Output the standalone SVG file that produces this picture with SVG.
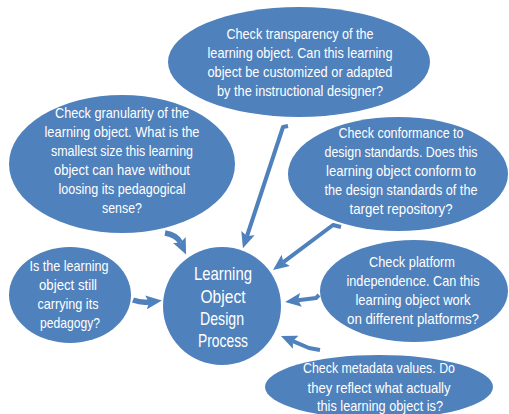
<svg xmlns="http://www.w3.org/2000/svg" width="509" height="414" viewBox="0 0 509 414">
<style>
.n{fill:#4f81bd;}
.t{fill:#ffffff;font-family:"Liberation Sans",Arial,sans-serif;font-size:15px;text-anchor:middle;}
.c{font-size:19px;}
.a{fill:none;stroke:#4f81bd;stroke-width:4;stroke-linejoin:round;marker-end:url(#h);}
.b{stroke-width:5.5;}
</style>
<defs>
<marker id="h" viewBox="0 0 16 14" refX="3" refY="7" markerWidth="16" markerHeight="14" markerUnits="userSpaceOnUse" orient="auto">
<path d="M0,0 L16,7 L0,14 L3,7 z" fill="#4f81bd"/>
</marker>
</defs>
<rect width="509" height="414" fill="#ffffff"/>
<g id="granularity">
<ellipse class="n" cx="122" cy="164" rx="113" ry="69"/>
<text class="t" x="122" y="118" textLength="134" lengthAdjust="spacingAndGlyphs">Check granularity of the</text>
<text class="t" x="122" y="137" textLength="155" lengthAdjust="spacingAndGlyphs">learning object. What is the</text>
<text class="t" x="122" y="156" textLength="142" lengthAdjust="spacingAndGlyphs">smallest size this learning</text>
<text class="t" x="122" y="175" textLength="136" lengthAdjust="spacingAndGlyphs">object can have without</text>
<text class="t" x="122" y="194" textLength="127" lengthAdjust="spacingAndGlyphs">loosing its pedagogical</text>
<text class="t" x="122" y="213" textLength="40" lengthAdjust="spacingAndGlyphs">sense?</text>
</g>
<g id="conformance">
<ellipse class="n" cx="398" cy="174" rx="110" ry="57"/>
<text class="t" x="401" y="138" textLength="125" lengthAdjust="spacingAndGlyphs">Check conformance to</text>
<text class="t" x="401" y="157" textLength="153" lengthAdjust="spacingAndGlyphs">design standards. Does this</text>
<text class="t" x="401" y="176" textLength="150" lengthAdjust="spacingAndGlyphs">learning object conform to</text>
<text class="t" x="401" y="195" textLength="153" lengthAdjust="spacingAndGlyphs">the design standards of the</text>
<text class="t" x="401" y="214" textLength="103" lengthAdjust="spacingAndGlyphs">target repository?</text>
</g>
<g id="pedagogy">
<ellipse class="n" cx="70" cy="295" rx="61" ry="48"/>
<text class="t" x="69" y="271" textLength="79" lengthAdjust="spacingAndGlyphs">Is the learning</text>
<text class="t" x="68" y="290" textLength="58" lengthAdjust="spacingAndGlyphs">object still</text>
<text class="t" x="68" y="309" textLength="61" lengthAdjust="spacingAndGlyphs">carrying its</text>
<text class="t" x="70" y="328" textLength="60" lengthAdjust="spacingAndGlyphs">pedagogy?</text>
</g>
<g id="process">
<circle class="n" cx="222" cy="306" r="59"/>
<text class="t c" x="223" y="280" textLength="58" lengthAdjust="spacingAndGlyphs">Learning</text>
<text class="t c" x="223" y="303" textLength="45" lengthAdjust="spacingAndGlyphs">Object</text>
<text class="t c" x="222" y="325" textLength="44" lengthAdjust="spacingAndGlyphs">Design</text>
<text class="t c" x="223" y="347" textLength="50" lengthAdjust="spacingAndGlyphs">Process</text>
</g>
<g id="platform">
<ellipse class="n" cx="414" cy="291" rx="94" ry="51"/>
<text class="t" x="412" y="267" textLength="86" lengthAdjust="spacingAndGlyphs">Check platform</text>
<text class="t" x="413" y="286" textLength="133" lengthAdjust="spacingAndGlyphs">independence. Can this</text>
<text class="t" x="413" y="305" textLength="115" lengthAdjust="spacingAndGlyphs">learning object work</text>
<text class="t" x="413" y="324" textLength="132" lengthAdjust="spacingAndGlyphs">on different platforms?</text>
</g>
<g id="metadata">
<ellipse class="n" cx="379" cy="387" rx="114" ry="32"/>
<text class="t" x="379" y="373" textLength="152" lengthAdjust="spacingAndGlyphs">Check metadata values. Do</text>
<text class="t" x="379" y="393" textLength="143" lengthAdjust="spacingAndGlyphs">they reflect what actually</text>
<text class="t" x="380" y="411" textLength="126" lengthAdjust="spacingAndGlyphs">this learning object is?</text>
</g>
<g id="transparency">
<ellipse class="n" cx="299" cy="62" rx="131" ry="55"/>
<text class="t" x="300" y="39" textLength="147" lengthAdjust="spacingAndGlyphs">Check transparency of the</text>
<text class="t" x="300" y="58" textLength="185" lengthAdjust="spacingAndGlyphs">learning object. Can this learning</text>
<text class="t" x="300" y="77" textLength="185" lengthAdjust="spacingAndGlyphs">object be customized or adapted</text>
<text class="t" x="300" y="96" textLength="166" lengthAdjust="spacingAndGlyphs">by the instructional designer?</text>
</g>
<g id="connectors">
<path class="a" d="M288,126 L283,127 L247,236"/>
<path class="a" d="M341,227 L333,225 L283.4,262.2"/>
<path class="a b" d="M165,233 Q177,235 180.6,242.7"/>
<path class="a b" d="M133,300 Q141,303 149,302"/>
<path class="a" d="M319,295 L316,298 L298,300.3"/>
<path class="a" d="M320,350 L309,348 L292.9,341.1"/>
</g>
</svg>
